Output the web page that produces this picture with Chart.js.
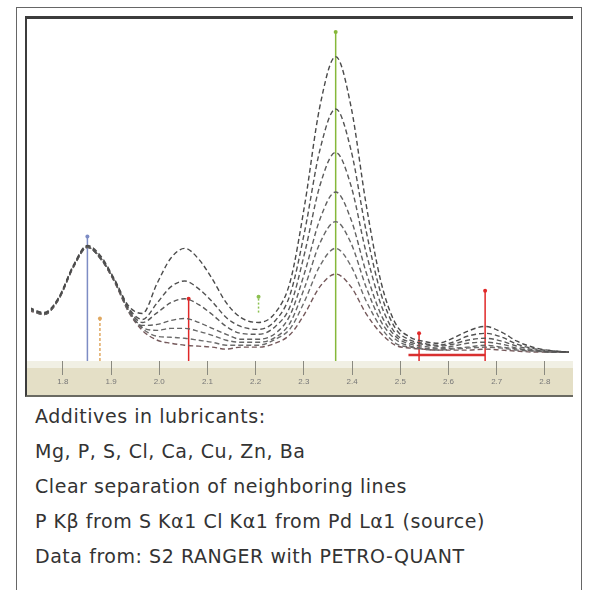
<!DOCTYPE html>
<html>
<head>
<meta charset="utf-8">
<script src="https://cdn.jsdelivr.net/npm/chart.js@4"></script>
<style>
  html, body { margin: 0; padding: 0; background: #fff; width: 596px; height: 590px; overflow: hidden; }
  #box { position: absolute; left: 16px; top: 7px; width: 566px; height: 620px; border: 1px solid #666; box-sizing: border-box; }
  #frame { position: absolute; left: 25px; top: 16px; width: 548px; height: 381px; box-sizing: border-box;
           border-top: 3px solid #3c3c3c; border-left: 2px solid #3c3c3c; border-bottom: 2px solid #6a6a62; }
  #frame canvas { display: block; }
  #notes { position: absolute; left: 35px; top: 399px; font-family: "DejaVu Sans", sans-serif; font-size: 19px;
           line-height: 35px; color: #333; letter-spacing: 0.55px; }
</style>
</head>
<body>
<div id="box"></div>
<div id="frame"><canvas id="spectrumChart" width="546" height="376"></canvas></div>
<div id="notes">
  <div>Additives in lubricants:</div>
  <div>Mg, P, S, Cl, Ca, Cu, Zn, Ba</div>
  <div>Clear separation of neighboring lines</div>
  <div>P Kβ from S Kα1 Cl Kα1 from Pd Lα1 (source)</div>
  <div>Data from: S2 RANGER with PETRO-QUANT</div>
</div>
<script>
// Energy axis (keV) and intensities (cps)
const energy = [1.730, 1.761, 1.791, 1.822, 1.851, 1.879, 1.908, 1.936, 1.965, 1.996, 2.024, 2.053, 2.082,
  2.110, 2.139, 2.169, 2.206, 2.241, 2.272, 2.302, 2.333, 2.366, 2.398, 2.429, 2.460, 2.490, 2.521, 2.547,
  2.578, 2.609, 2.639, 2.676, 2.711, 2.742, 2.783, 2.823, 2.850];

const std1 = [540, 490, 640, 970, 1170, 1060, 820, 560, 480, 790, 1040, 1140, 1030, 830, 590, 440, 390, 490,
  810, 1590, 2570, 3080, 2570, 1590, 800, 380, 240, 200, 180, 230, 300, 350, 290, 200, 130, 100, 90];
const std2 = [530, 480, 630, 960, 1160, 1040, 810, 540, 420, 590, 750, 810, 730, 600, 440, 350, 320, 410,
  680, 1320, 2130, 2550, 2130, 1320, 680, 330, 210, 180, 160, 190, 250, 280, 240, 170, 120, 100, 90];
const std3 = [530, 480, 630, 960, 1160, 1040, 810, 530, 390, 490, 590, 630, 570, 470, 350, 280, 270, 350,
  560, 1100, 1770, 2110, 1770, 1100, 570, 280, 190, 170, 150, 170, 210, 230, 200, 150, 110, 90, 90];
const std4 = [520, 480, 630, 960, 1150, 1040, 800, 520, 360, 370, 410, 430, 390, 330, 270, 220, 220, 280,
  470, 900, 1430, 1710, 1430, 900, 470, 250, 170, 150, 130, 150, 180, 190, 170, 130, 100, 90, 90];
const std5 = [520, 470, 620, 950, 1150, 1030, 800, 510, 340, 310, 330, 330, 300, 260, 210, 190, 190, 240,
  390, 750, 1190, 1410, 1190, 750, 400, 220, 150, 130, 120, 130, 140, 160, 140, 120, 100, 90, 90];
const std6 = [520, 470, 620, 950, 1150, 1030, 800, 510, 330, 250, 240, 230, 210, 190, 160, 160, 160, 220,
  330, 610, 960, 1140, 960, 610, 340, 180, 140, 120, 110, 120, 130, 140, 130, 110, 100, 90, 90];
const std7 = [510, 470, 620, 950, 1150, 1030, 790, 500, 310, 210, 180, 160, 150, 140, 120, 140, 140, 180,
  270, 480, 750, 880, 750, 480, 280, 160, 130, 120, 110, 110, 110, 120, 110, 100, 90, 90, 90];
const standards = [std1, std2, std3, std4, std5, std6, std7];

// Element line markers: energy, top of marker, colour
const markerEnergy = [1.851, 1.877, 2.061, 2.206, 2.366, 2.539, 2.676];
const markerTop = [1260, 430, 630, 650, 3330, 280, 710];
const markerBottom = [0, 0, 0, 490, 0, 0, 0];
const markerColor = ['#7d8cc4', '#e0a860', '#e02828', '#8cc050', '#86b83a', '#e02828', '#e02828'];
const markerDash = [[], [3, 2], [], [2, 2], [], [], []];

// Region of interest bar under the Cl line
const roiEnergy = [2.517, 2.676];
const roiLevel = 60;

const curveColors = ['#4a4a4a', '#525252', '#5a5a5a', '#606060', '#666', '#6c6c6c', '#74585a'];

const datasets = [];

standards.forEach(function (vals, i) {
    datasets.push({
        data: energy.map(function (e, k) { return { x: e, y: vals[k] }; }),
        borderColor: curveColors[i],
        borderWidth: 1.4,
        borderDash: [5, 3],
        pointRadius: 0,
        tension: 0.4,
        cubicInterpolationMode: 'monotone'
    });
});

markerEnergy.forEach(function (e, i) {
    datasets.push({
        data: [{ x: e, y: markerBottom[i] }, { x: e, y: markerTop[i] }],
        borderColor: markerColor[i],
        backgroundColor: markerColor[i],
        borderWidth: 1.5,
        borderDash: markerDash[i],
        pointRadius: [0, 2],
        pointBorderWidth: 0
    });
});

datasets.push({
    data: [{ x: roiEnergy[0], y: roiLevel }, { x: roiEnergy[1], y: roiLevel }],
    borderColor: '#d83030',
    borderWidth: 2.5,
    pointRadius: 0
});

// tan axis band like the instrument software
const bandPlugin = {
    id: 'band',
    beforeDraw: function (chart) {
        const ctx = chart.ctx;
        const area = chart.chartArea;
        ctx.save();
        ctx.fillStyle = '#f1f0e4';
        ctx.fillRect(0, area.bottom, chart.width, chart.height - area.bottom);
        ctx.fillStyle = '#e4dfc6';
        ctx.fillRect(0, area.bottom + 7, chart.width, chart.height - area.bottom - 7);
        ctx.restore();
    }
};

new Chart(document.getElementById('spectrumChart'), {
    type: 'line',
    data: { datasets: datasets },
    options: {
        responsive: false,
        animation: false,
        devicePixelRatio: 1,
        layout: { padding: 0 },
        plugins: {
            legend: { display: false },
            tooltip: { enabled: false }
        },
        scales: {
            x: {
                type: 'linear',
                min: 1.734,
                max: 2.85,
                afterFit: function (scale) { scale.height = 34; },
                border: { display: false },
                grid: {
                    drawOnChartArea: false,
                    tickLength: 14,
                    tickColor: '#8a8a80'
                },
                ticks: {
                    stepSize: 0.1,
                    includeBounds: false,
                    padding: 2,
                    color: '#777',
                    font: { size: 8 },
                    callback: function (value) { return value.toFixed(1); }
                }
            },
            y: {
                display: false,
                min: 0,
                max: 3420
            }
        }
    },
    plugins: [bandPlugin]
});
</script>
</body>
</html>
